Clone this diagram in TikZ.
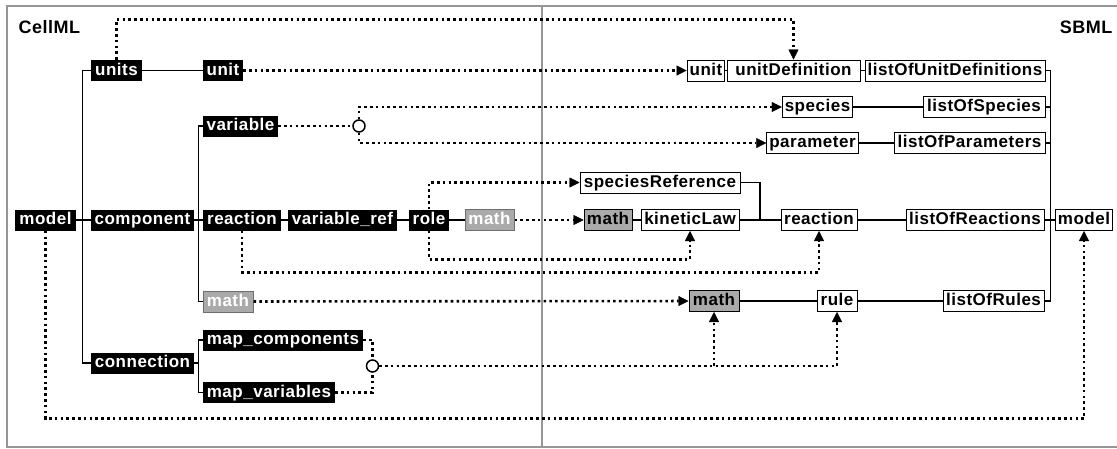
\documentclass[tikz,border=0pt]{standalone}
\usepackage{fontspec}
\usetikzlibrary{arrows.meta,calc}
\newfontfamily\boxfont[LetterSpace=3]{Liberation Sans}
\newfontfamily\titlefont[LetterSpace=3]{Liberation Sans}
\definecolor{framegray}{RGB}{150,150,150}
\definecolor{mathgray}{RGB}{170,170,170}
\definecolor{mathedge}{RGB}{110,110,110}

\begin{document}
\begin{tikzpicture}[
            x=1pt, y=-1pt,
            box/.style={rectangle, inner xsep=2.5pt, inner ysep=2.5pt, text height=12.5pt, text depth=3.5pt,
                font=\fontsize{17}{19}\boxfont\bfseries},
            cml/.style={box, fill=black, text=white},
            sbm/.style={box, draw=black, line width=1pt, fill=white, text=black},
            cmth/.style={box, fill=mathgray, draw=mathedge, line width=1pt, text=white},
            smth/.style={box, fill=mathgray, draw=black, line width=1pt, text=black},
            hub/.style={circle, draw, line width=1.5pt, fill=white, inner sep=0pt, minimum size=12pt},
            tie/.style={line width=1.2pt},
            dots/.style={line width=2.6pt, dash pattern=on 2.6pt off 3.2pt},
            ref/.style={dots, -{Triangle[length=10pt, width=10pt, line width=0.4pt]}},
        ]
            \useasboundingbox (0,0) rectangle (1117,448);
            % frame and divider
            \draw[framegray, line width=1.5pt] (1117,6) -- (7,6) -- (7,447) -- (1117,447);
            \draw[framegray, line width=2pt] (542,6) -- (542,447);
            \node[anchor=west, font=\fontsize{18}{20}\titlefont\bfseries] (tcellml) at (15,27) {CellML};
            \node[anchor=east, font=\fontsize{18}{20}\titlefont\bfseries] (tsbml) at (1116,27) {SBML};

            % CellML side
            \node[cml, minimum width=61pt] (cmodel) at (45.5,220) {model};
            \node[cml, minimum width=51pt] (cunits) at (116.5,70.5) {units};
            \node[cml, minimum width=40pt] (cunit) at (223,70.5) {unit};
            \node[cml, minimum width=103pt] (ccomp) at (142.5,220) {component};
            \node[cml, minimum width=75pt] (cvar) at (240.5,126) {variable};
            \node[cml, minimum width=78pt] (creac) at (242,220) {reaction};
            \node[cml, minimum width=109pt] (cvref) at (342.5,220) {variable\_ref};
            \node[cml, minimum width=40pt] (crole) at (429,220) {role};
            \node[cmth, minimum width=49pt] (cmathr) at (489.5,220) {math};
            \node[cmth, minimum width=50pt] (cmathc) at (228,301.5) {math};
            \node[cml, minimum width=103pt] (cconn) at (142.5,363) {connection};
            \node[cml, minimum width=160pt] (cmapc) at (283,340) {map\_components};
            \node[cml, minimum width=132pt] (cmapv) at (269,392.5) {map\_variables};
            \node[hub] (hubv) at (359,126) {};
            \node[hub] (hubm) at (372.5,366) {};

            % SBML side
            \node[sbm, minimum width=34pt] (sunit) at (706,70.5) {unit};
            \node[sbm, minimum width=133pt] (sudef) at (793.5,70.5) {unitDefinition};
            \node[sbm, minimum width=180pt] (slud) at (955,70.5) {listOfUnitDefinitions};
            \node[sbm, minimum width=69pt] (sspec) at (817.5,107) {species};
            \node[sbm, minimum width=122pt] (slspec) at (984,107) {listOfSpecies};
            \node[sbm, minimum width=89pt] (sparam) at (812.5,143) {parameter};
            \node[sbm, minimum width=151pt] (slparam) at (969.5,143) {listOfParameters};
            \node[sbm, minimum width=160pt] (sref) at (660,182.5) {speciesReference};
            \node[smth, minimum width=48pt] (smath) at (608,220) {math};
            \node[sbm, minimum width=98pt] (sklaw) at (690,220) {kineticLaw};
            \node[sbm, minimum width=76pt] (sreac) at (819,220) {reaction};
            \node[sbm, minimum width=138pt] (slreac) at (975,220) {listOfReactions};
            \node[sbm, minimum width=56pt] (smodel) at (1084,220) {model};
            \node[smth, minimum width=50pt] (srmath) at (714,301) {math};
            \node[sbm, minimum width=40pt] (srule) at (837,301) {rule};
            \node[sbm, minimum width=101pt] (slrule) at (993.5,301) {listOfRules};

            % element trees
            \draw[tie] (cunits.west) -- ++(-8,0) |- (cconn.west);
            \draw[tie] (cmodel) -- (ccomp) -- (creac) -- (cvref) -- (crole) -- (cmathr);
            \draw[tie] (cunits) -- (cunit);
            \draw[tie] (cvar.west) -- ++(-4,0) |- (cmathc.west);
            \draw[tie] (cconn.east) -- ++(5,0);
            \draw[tie] (cmapc.west) -- ++(-4,0) |- (cmapv.west);
            \draw[tie] (sunit) -- (sudef) -- (slud);
            \draw[tie] (sspec) -- (slspec);
            \draw[tie] (sparam) -- (slparam);
            \draw[tie] (smath) -- (sklaw) -- (sreac) -- (slreac) -- (smodel);
            \draw[tie] (sref.east) -| ($(sklaw.east)!.5!(sreac.west)$);
            \draw[tie] (srmath) -- (srule) -- (slrule);
            \draw[tie] (slud.east) -- ++(5,0) |- (slrule.east);
            \draw[tie] (slspec.east) -- ++(5,0);
            \draw[tie] (slparam.east) -- ++(5,0);

            % mappings CellML -> SBML
            \coordinate (topline) at (0,19.5);
            \draw[ref] (cunits.north) |- (topline -| sudef.north) -- (sudef.north);
            \draw[ref] (cunit) -- (sunit);
            \draw[dots] (cvar) -- (hubv);
            \draw[ref] (hubv.north) |- (sspec.west);
            \draw[ref] (hubv.south) |- (sparam.west);
            \draw[ref] (crole.north) |- (sref.west);
            \draw[ref] (crole.south) -- ++(0,28.5) -| (sklaw.south);
            \draw[ref] (cmathr) -- (smath);
            \draw[ref] (creac.south) -- ++(0,41.5) -| (sreac.south);
            \draw[ref] (cmathc) -- (srmath);
            \draw[dots] (cmapc.east) -| (hubm.north);
            \draw[dots] (cmapv.east) -| (hubm.south);
            \draw[ref] (hubm.east) -| (srule.south);
            \draw[ref] (hubm -| srmath.south) -- (srmath.south);
            \draw[ref] (cmodel.south) -- ++(0,188) -| (smodel.south);
        \end{tikzpicture}
\end{document}
